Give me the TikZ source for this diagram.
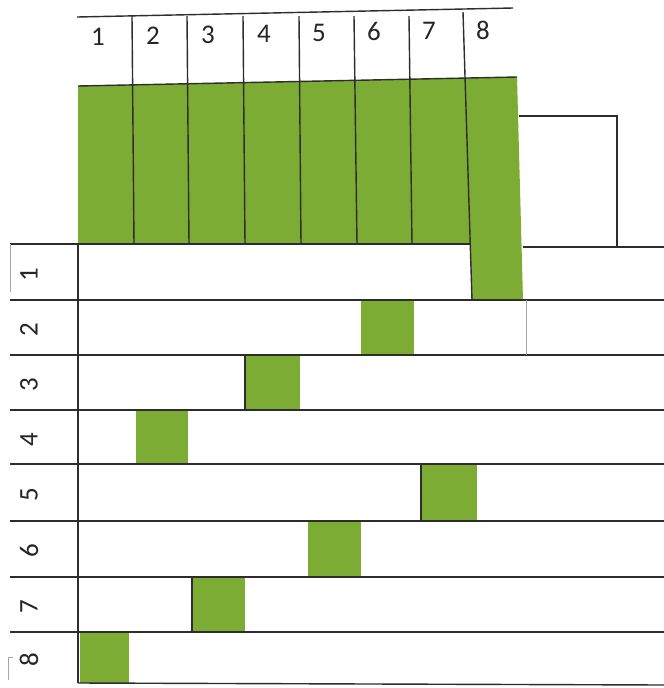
\documentclass[tikz,border=0pt]{standalone}
\usepackage{fontspec}
\setmainfont{Carlito}
\definecolor{leaf}{RGB}{124,172,52}
\definecolor{ink}{RGB}{45,45,45}
\begin{document}
\begin{tikzpicture}[x=0.03cm,y=-0.03cm,
  rule/.style={draw=ink,line width=1.2pt},
  faint/.style={draw=black!35,line width=0.8pt},
  greenfill/.style={fill=leaf},
  lbl/.style={text=black!85,font=\fontsize{23}{23}\selectfont,inner sep=0pt},
  rowlbl/.style={lbl,rotate=90}]
\useasboundingbox (0,0) rectangle (664,688);
\fill[white] (0,0) rectangle (664,688);
% green strips (top part + strip 8 through row 1)
\fill[greenfill] (78,86) -- (517,77) -- (523,300) -- (472,300) -- (470,244) -- (78,244) -- cycle;
% green cells in the rows
\foreach \xa/\xb/\ya/\yb in {361/414/300/355, 245/300/355/410, 136/188/410/464, 421/477/464/521, 308/361/521/577, 192/245/577/632, 80/129/632/683}
  \fill[greenfill] (\xa,\ya) rectangle (\xb,\yb);
% right box
\draw[rule] (519,116) -- (617,116) -- (617,247);
% header
\draw[rule] (77,17) -- (513,8);
\draw[rule] (78,86) -- (517,77);
\foreach \xt/\xb in {132/134, 187/189, 243/245, 299/301, 354/357, 409/412}
  \draw[rule] (\xt,16) -- (\xb,244);
\draw[rule] (463,12) -- (472,300);
% row lines
\draw[rule] (10,244) -- (470,244);
\draw[rule] (523,247) -- (664,247);
\foreach \y in {300,355,410,464,521,577,632}
  \draw[rule] (10,\y) -- (664,\y);
\draw[rule] (78,683) -- (664,685);
\draw[rule] (78,244) -- (78,683);
% dark edges on some green cells
\draw[rule] (245,355) -- (245,410);
\draw[rule] (421,464) -- (421,521);
\draw[rule] (192,577) -- (192,632);
% faint marks
\draw[faint] (526,300) -- (526,355);
\draw[faint] (10,244) -- (10,292);
\draw[faint] (13,657) -- (8,657) -- (8,680);
% column labels
\foreach \n/\x in {1/98,2/153,3/208,4/264,5/319,6/374,7/429,8/483}
  \node[lbl] (c\n) at (\x,{37-(\x-98)*7/385}) {\n};
% row labels
\foreach \n/\y in {1/275,2/330,3/385,4/440,5/495,6/551,7/607,8/660}
  \node[rowlbl] (r\n) at (29,\y) {\n};
\end{tikzpicture}
\end{document}
